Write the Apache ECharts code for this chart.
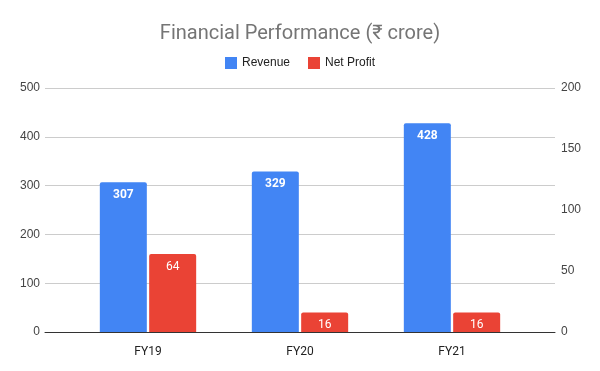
<!DOCTYPE html>
<html><head><meta charset="utf-8">
<script src="https://cdn.jsdelivr.net/npm/echarts@6/dist/echarts.min.js"></script>
<style>html,body{margin:0;padding:0;background:#fff}#c{width:600px;height:371px}</style>
</head><body><div id="c"></div>
<script>
const categories = ['FY19', 'FY20', 'FY21'];
const revenue = [307, 329, 428];
const netProfit = [64, 16, 16];
const leftTicks = [0, 100, 200, 300, 400, 500];
const rightTicks = [0, 50, 100, 150, 200];

const FONT = 'Roboto, "Noto Sans", sans-serif';
const AFONT = '"Liberation Sans", Arial, sans-serif';
const chart = echarts.init(document.getElementById('c'));
chart.setOption({
  backgroundColor: '#fff',
  animation: false,
  textStyle: { fontFamily: FONT },
  title: {
    text: 'Financial Performance (₹ crore)',
    left: 'center', top: 19,
    textStyle: { fontFamily: FONT, fontSize: 20, fontWeight: 'normal', color: '#757575' }
  },
  legend: {
    top: 52, left: 'center',
    itemWidth: 12, itemHeight: 12, itemGap: 18,
    icon: 'rect',
    textStyle: { fontFamily: AFONT, fontSize: 12, color: '#222' },
    data: ['Revenue', 'Net Profit']
  },
  grid: [
    { left: 45, right: 45, top: 88, bottom: 39 },
    { left: 72, right: 72, top: 88, bottom: 39 }
  ],
  xAxis: [
    { gridIndex: 0, type: 'value', min: 0, max: 1,
      axisLine: { show: true, onZero: false, lineStyle: { color: '#333', width: 1 } },
      axisTick: { show: false }, axisLabel: { show: false }, splitLine: { show: false } },
    { gridIndex: 1, type: 'category', data: categories,
      axisLine: { show: false }, axisTick: { show: false },
      axisLabel: { color: '#222', fontSize: 12, fontFamily: FONT, margin: 14 } }
  ],
  yAxis: [
    { gridIndex: 0, type: 'value', min: leftTicks[0], max: leftTicks[leftTicks.length-1], interval: 100,
      axisLine: { show: false }, axisTick: { show: false },
      axisLabel: { color: '#444', fontSize: 12, fontFamily: AFONT, margin: 5 },
      splitLine: { lineStyle: { color: '#ccc', width: 1 } } },
    { gridIndex: 0, type: 'value', position: 'right', min: rightTicks[0], max: rightTicks[rightTicks.length-1], interval: 50,
      axisLine: { show: false }, axisTick: { show: false },
      axisLabel: { color: '#444', fontSize: 12, fontFamily: AFONT, margin: 6 },
      splitLine: { show: false } },
    { gridIndex: 1, type: 'value', min: 0, max: 500, show: false },
    { gridIndex: 1, type: 'value', min: 0, max: 200, show: false }
  ],
  series: [
    { name: 'Revenue', type: 'bar', xAxisIndex: 1, yAxisIndex: 2, data: revenue,
      barWidth: 47, barGap: '5%',
      itemStyle: { color: '#4285F4', borderRadius: [2, 2, 0, 0] },
      label: { show: true, position: 'insideTop', distance: 7, color: '#fff', fontWeight: 'bold', fontSize: 12, fontFamily: FONT } },
    { name: 'Net Profit', type: 'bar', xAxisIndex: 1, yAxisIndex: 3, data: netProfit,
      barWidth: 47, barGap: '5%',
      itemStyle: { color: '#EA4335', borderRadius: [2, 2, 0, 0] },
      label: { show: true, position: 'insideTop', distance: 7, color: '#fff', fontWeight: 'normal', fontSize: 12, fontFamily: FONT } }
  ]
});
</script></body></html>
